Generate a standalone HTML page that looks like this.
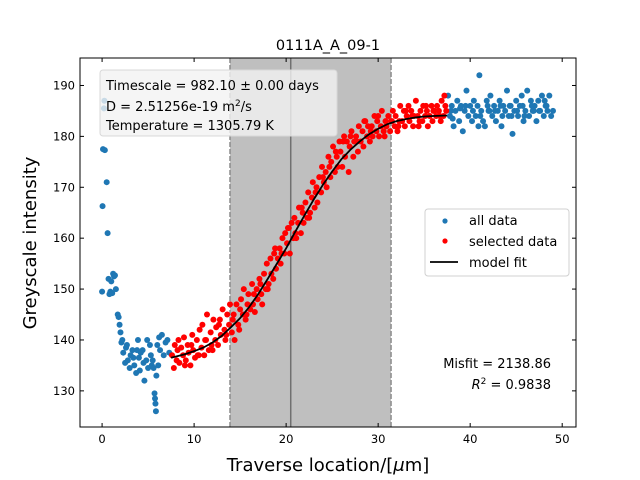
<!DOCTYPE html>
<html><head><meta charset="utf-8"><style>
body{margin:0;background:#fff;}
svg{display:block;font-family:"DejaVu Sans","Liberation Sans",sans-serif;}
</style></head><body>
<svg id="chart" width="640" height="480" viewBox="0 0 640 480"></svg>
<script>
const blueX=[0,0.05,0.1,0.2,0.25,0.3,0.5,0.6,0.7,0.8,0.9,1.0,1.1,1.2,1.3,1.4,1.5,1.7,1.8,1.9,2.0,2.1,2.2,2.3,2.5,2.6,2.7,2.8,3.0,3.1,3.3,3.4,3.5,3.7,3.8,3.9,4.0,4.1,4.2,4.4,4.5,4.6,4.8,4.9,5.0,5.2,5.3,5.4,5.5,5.6,5.7,5.75,5.8,5.85,5.9,6.0,6.1,6.2,6.3,6.5,6.7,6.9,7.1,7.3,
37.6,37.8,38.0,38.2,38.4,38.6,38.8,39.0,39.2,39.4,
39.6,39.8,40.0,40.2,40.4,40.6,40.8,41.0,41.2,41.4,
41.6,41.8,42.0,42.2,42.4,42.6,42.8,43.0,43.2,43.4,
43.6,43.8,44.0,44.2,44.4,44.6,44.8,45.0,45.2,45.4,
45.6,45.8,46.0,46.2,46.4,46.6,46.8,47.0,47.2,47.4,
47.6,47.8,48.0,48.2,48.4,48.6,48.8,49.0,38.1,38.9,
39.5,40.3,41.1,41.9,42.7,43.5,44.3,45.1,45.9,46.7,
47.5,48.3,40.9,42.1,43.3,44.5,45.7,46.9,48.1,37.9];
const blueY=[149.5,166.3,177.5,185.5,187,177.3,171,161,152,149,149.5,151.5,149.2,153,152.5,152.7,150,145,144.5,143,141.5,139.5,140,137.5,135.5,138.5,139,136,134.5,137,138,136.5,135,133.5,138,140,136.5,134,137.5,138,135.5,132,136,140,134.5,139,137,135,136,134.5,129.5,128.5,127.5,126,133,139,135,140.5,138,141,137,139.5,140,137.5,
188,184,186,182,185,187,183,186,181,185,
189,184,186,183,187,184,186,192,185,183,
182,187,185,188,184,186,183,185,187,182,
186,185,189,184,186,180.5,185,187,184,186,
188,183,185,189,184,187,185,186,183,187,
185,188,184,186,185,188,184,185,183.5,185.5,
186,185,184,186,185,184,186,185,184,186,
185,186,182,185,186,184,186,185,187,185];
const redX=[7.6,7.8,7.9,8.1,8.3,8.4,8.6,8.8,8.9,9.1,
9.3,9.4,9.6,9.8,9.9,10.1,10.3,10.4,10.6,10.8,
10.9,11.1,11.3,11.4,11.6,11.8,11.9,12.1,12.3,12.4,
12.6,12.8,12.9,13.1,13.3,13.4,13.6,13.8,13.9,14.1,
14.3,14.4,14.6,14.8,14.9,15.1,15.3,15.4,15.6,15.8,
15.9,16.1,16.3,16.4,16.6,16.8,16.9,17.1,17.3,17.4,
17.6,17.8,17.9,18.1,18.3,18.4,18.6,18.8,18.9,19.1,
19.3,19.4,19.6,19.8,19.9,20.1,20.3,20.4,20.6,20.8,
20.9,21.1,21.3,21.4,21.6,21.8,21.9,22.1,22.3,22.4,
22.6,22.8,22.9,23.1,23.3,23.4,23.6,23.8,23.9,24.1,
24.3,24.4,24.6,24.8,24.9,25.1,25.3,25.4,25.6,25.8,
25.9,26.1,26.3,26.4,26.6,26.8,26.9,27.1,27.3,27.4,
27.6,27.8,27.9,28.1,28.3,28.4,28.6,28.8,28.9,29.1,
29.3,29.4,29.6,29.8,29.9,30.1,30.3,30.4,30.6,30.8,
30.9,31.1,31.3,31.4,31.6,31.8,31.9,32.1,32.3,32.4,
32.6,32.8,32.9,33.1,33.3,33.4,33.6,33.8,33.9,34.1,
34.3,34.4,34.6,34.8,34.9,35.1,35.3,35.4,35.6,35.8,
35.9,36.1,36.3,36.4,36.6,36.8,36.9,37.1,37.3,37.4,
8.2,9.0,9.7,10.5,11.2,12.0,12.7,13.5,14.2,15.0,
15.7,16.5,17.2,18.0,18.7,19.5,20.2,21.0,21.7,22.5,
23.2,24.0,24.7,25.5,26.2,27.0,27.7,28.5,29.2,30.0,
30.7,31.5,32.2,33.0,33.7,34.5,35.2,36.0,36.7,37.2];
const redY=[137,134.5,139,136,140,135.5,138.5,137,140.5,136,
139,137.5,135,141,138,136.5,140,137,142,138.5,
143,137,140,145,138,141.5,139,144,140,142.5,
139,144,141,146,142,140,145,143,147,141.5,
145,140,147,143,142,148,145,150,144,147,
149,146,151,147,145.5,150,148,152,149,147,
153,150,155,151,156,153,152,158,154,156,
158,155,160,157,161,159,162,157,163,160,
164,160,163,166,161,165,163,167,164,169,
165,168,171,166,170,167,172,169,174,171,
173,170,176,172,175,178,173,177,174,179,
177,174,180,176,179,173,178,181,176,179,
180,177,182,179,181,178,183,180,182,179,
182,180,184,181,183,180,182,185,181,183,
182,184,181,183,185,182,184,181,183,186,
183,185,182,184,186,183,185,182,184,187,
184,182,185,183,186,184,185,182,184,186,
183,185,184,186,185,183,187,184,186,185,
138,135,139,137,140,138,143,141,144,146,
145,149,151,150,157,157,162,161,166,164,
169,172,174,176,179,180,179,183,181,184,
180,183,182,185,184,183,186,185,184,188];
const fitX=[7.5,9,10,11,12,13,14,15,16,17,18,19,20,21,22,23,24,25,26,27,28,29,30,31,32,33,34,35,36,37.5];
const fitY=[136.5,137.2,137.8,138.5,139.5,140.8,142.5,144.3,146.5,149.1,152,155,158,161.3,164.5,167.6,170.5,173.1,175.5,177.4,179,180.4,181.5,182.4,183,183.4,183.7,183.9,184,184.1];
const xTicks=[0,10,20,30,40,50];
const yTicks=[130,140,150,160,170,180,190];

const L=80,R=576,T=58,B=427,X0=-2.4,X1=51.5,Y0=122.9,Y1=195.4;
const sx=v=>L+(v-X0)/(X1-X0)*(R-L);
const sy=v=>B-(v-Y0)/(Y1-Y0)*(B-T);
const svg=document.getElementById('chart');
const NS='http://www.w3.org/2000/svg';
function mk(tag,attrs,parent){const e=document.createElementNS(NS,tag);for(const k in attrs)e.setAttribute(k,attrs[k]);(parent||svg).appendChild(e);return e;}

let g;
g=mk('rect',{x:sx(13.9),y:T,width:sx(31.4)-sx(13.9),height:B-T,fill:'#bfbfbf'});


g=mk('line',{x1:sx(13.9),x2:sx(13.9),y1:T,y2:B,stroke:'#8c8c8c','stroke-width':1.5,'stroke-dasharray':'5,2'});


g=mk('line',{x1:sx(31.4),x2:sx(31.4),y1:T,y2:B,stroke:'#8c8c8c','stroke-width':1.5,'stroke-dasharray':'5,2'});


g=mk('line',{x1:sx(20.5),x2:sx(20.5),y1:T,y2:B,stroke:'#707070','stroke-width':1.5});



const n1=Math.min(blueX.length,blueY.length);
for(let i=0;i<n1;i++){
  const c=mk('circle',{cx:sx(blueX[i]),cy:sy(blueY[i]),r:3,fill:'#1f77b4'});
  
  
}
const n2=Math.min(redX.length,redY.length);
for(let i=0;i<n2;i++){
  const c=mk('circle',{cx:sx(redX[i]),cy:sy(redY[i]),r:3,fill:'#ff0000'});
  
  
}
g=mk('polyline',{points:fitX.map((x,i)=>sx(x)+','+sy(fitY[i])).join(' '),fill:'none',stroke:'#000','stroke-width':1.8});



g=mk('rect',{x:100,y:70,width:237,height:66,rx:3,fill:'#f2f2f2','fill-opacity':0.8,stroke:'#d8d8d8'});


const t1=mk('text',{x:106,y:90,'font-size':13});t1.textContent='Timescale = 982.10 ± 0.00 days';


const t2=mk('text',{x:106,y:111,'font-size':13});t2.innerHTML='D = 2.51256e-19 m<tspan dy="-5" font-size="9">2</tspan><tspan dy="5">/s</tspan>';


const t3=mk('text',{x:106,y:130,'font-size':13});t3.textContent='Temperature = 1305.79 K';



const m1=mk('text',{x:551,y:368,'font-size':13,'text-anchor':'end'});m1.textContent='Misfit = 2138.86';


const m2=mk('text',{x:551,y:389,'font-size':13,'text-anchor':'end'});m2.innerHTML='<tspan font-style="italic">R</tspan><tspan dy="-5" font-size="9">2</tspan><tspan dy="5"> = 0.9838</tspan>';



const lg=mk('g',{});


mk('rect',{x:425,y:209,width:144,height:67,rx:3,fill:'#fff','fill-opacity':0.8,stroke:'#d0d0d0'},lg);
mk('circle',{cx:445,cy:221,r:2.6,fill:'#1f77b4'},lg);
mk('circle',{cx:445,cy:241,r:2.6,fill:'#ff0000'},lg);
mk('line',{x1:430,x2:458,y1:262,y2:262,stroke:'#000','stroke-width':1.8},lg);
[['all data',225],['selected data',246],['model fit',267]].forEach(([s,y])=>{const t=mk('text',{x:469,y:y,'font-size':13},lg);t.textContent=s;});

g=mk('rect',{x:L,y:T,width:R-L,height:B-T,fill:'none',stroke:'#000','stroke-width':1});


xTicks.forEach(v=>{
  mk('line',{x1:sx(v),x2:sx(v),y1:B,y2:B-4,stroke:'#000'});
  mk('line',{x1:sx(v),x2:sx(v),y1:T,y2:T+4,stroke:'#000'});
  const t=mk('text',{x:sx(v),y:B+16,'font-size':11.5,'text-anchor':'middle'});t.textContent=v;
  
  
});
yTicks.forEach(v=>{
  mk('line',{x1:L,x2:L+4,y1:sy(v),y2:sy(v),stroke:'#000'});
  mk('line',{x1:R,x2:R-4,y1:sy(v),y2:sy(v),stroke:'#000'});
  const t=mk('text',{x:L-5,y:sy(v)+4,'font-size':11.5,'text-anchor':'end'});t.textContent=v;
  
  
});
const title=mk('text',{x:328,y:50,'font-size':14.5,'text-anchor':'middle'});title.textContent='0111A_A_09-1';


const xl=mk('text',{x:328,y:471,'font-size':18,'text-anchor':'middle'});xl.innerHTML='Traverse location/[<tspan font-style="italic">μ</tspan>m]';


const yl=mk('text',{x:36,y:243,'font-size':18,'text-anchor':'middle',transform:'rotate(-90 36 243)'});yl.textContent='Greyscale intensity';


</script>
</body></html>
